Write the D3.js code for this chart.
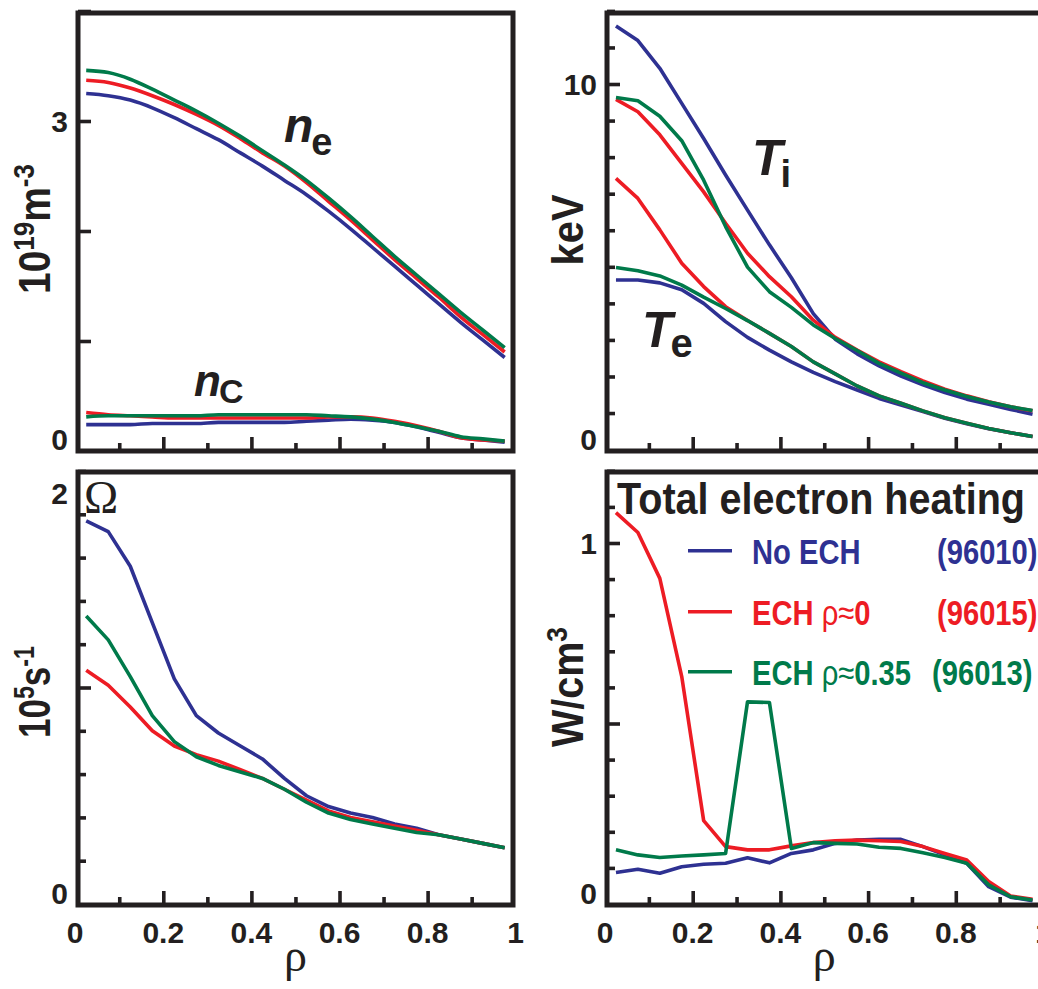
<!DOCTYPE html>
<html>
<head>
<meta charset="utf-8">
<script src="https://cdn.jsdelivr.net/npm/d3@7"></script>
<style>
body { margin: 0; background: #fff; }
svg { display: block; }
text { font-family: "Liberation Sans", Arial, sans-serif; font-weight: bold; fill: #231f20; }
</style>
</head>
<body>
<svg id="vis" width="1038" height="989"></svg>
<script>
// normalised radius, same grid for every profile
const rho = [0.025, 0.075, 0.125, 0.175, 0.225, 0.275, 0.325, 0.375, 0.425, 0.475,
             0.525, 0.575, 0.625, 0.675, 0.725, 0.775, 0.825, 0.875, 0.925, 0.975]

// electron density n_e, 10^19 m^-3
const neNoEch  = [3.25, 3.23, 3.19, 3.12, 3.03, 2.93, 2.83, 2.71, 2.59, 2.46, 2.33, 2.18, 2.02, 1.85, 1.68, 1.51, 1.34, 1.17, 1.01, 0.85]
const neEch0   = [3.37, 3.35, 3.30, 3.23, 3.15, 3.06, 2.96, 2.84, 2.71, 2.59, 2.44, 2.27, 2.10, 1.92, 1.74, 1.57, 1.40, 1.22, 1.06, 0.90]
const neEch035 = [3.46, 3.44, 3.38, 3.29, 3.19, 3.09, 2.98, 2.86, 2.73, 2.60, 2.46, 2.30, 2.13, 1.95, 1.77, 1.60, 1.43, 1.26, 1.10, 0.94]

// carbon density n_C, 10^19 m^-3
const ncNoEch  = [0.24, 0.24, 0.24, 0.25, 0.25, 0.25, 0.26, 0.26, 0.26, 0.26, 0.27, 0.28, 0.29, 0.28, 0.26, 0.22, 0.17, 0.12, 0.10, 0.08]
const ncEch0   = [0.35, 0.33, 0.32, 0.31, 0.30, 0.30, 0.30, 0.30, 0.30, 0.30, 0.30, 0.31, 0.31, 0.30, 0.27, 0.23, 0.18, 0.12, 0.10, 0.09]
const ncEch035 = [0.31, 0.32, 0.32, 0.32, 0.32, 0.32, 0.33, 0.33, 0.33, 0.33, 0.33, 0.32, 0.31, 0.29, 0.26, 0.22, 0.18, 0.13, 0.11, 0.09]

// ion temperature T_i, keV
const tiNoEch  = [11.59, 11.19, 10.43, 9.47, 8.51, 7.51, 6.55, 5.60, 4.70, 3.72, 3.02, 2.62, 2.29, 2.01, 1.77, 1.56, 1.38, 1.24, 1.10, 0.97]
const tiEch0   = [9.58, 9.24, 8.61, 7.83, 7.05, 6.19, 5.37, 4.73, 4.18, 3.54, 3.07, 2.72, 2.40, 2.13, 1.88, 1.65, 1.47, 1.31, 1.17, 1.06]
const tiEch035 = [9.63, 9.54, 9.12, 8.45, 7.37, 6.10, 4.99, 4.32, 3.89, 3.41, 3.04, 2.71, 2.36, 2.09, 1.83, 1.63, 1.45, 1.30, 1.17, 1.07]

// electron temperature T_e, keV
const teNoEch  = [4.64, 4.64, 4.56, 4.37, 4.00, 3.50, 3.07, 2.72, 2.40, 2.11, 1.86, 1.63, 1.40, 1.22, 1.04, 0.86, 0.71, 0.57, 0.46, 0.36]
const teEch0   = [7.42, 6.87, 6.01, 5.10, 4.46, 3.91, 3.53, 3.18, 2.82, 2.40, 2.07, 1.74, 1.47, 1.27, 1.06, 0.87, 0.72, 0.58, 0.46, 0.36]
const teEch035 = [4.98, 4.89, 4.75, 4.50, 4.17, 3.86, 3.53, 3.18, 2.82, 2.40, 2.07, 1.74, 1.47, 1.27, 1.06, 0.87, 0.72, 0.58, 0.46, 0.36]

// toroidal rotation Omega, 10^5 s^-1
const omNoEch  = [1.77, 1.72, 1.56, 1.30, 1.04, 0.87, 0.79, 0.73, 0.67, 0.58, 0.50, 0.45, 0.42, 0.40, 0.37, 0.35, 0.32, 0.30, 0.28, 0.26]
const omEch0   = [1.08, 1.01, 0.91, 0.80, 0.73, 0.69, 0.66, 0.62, 0.58, 0.53, 0.48, 0.43, 0.40, 0.38, 0.36, 0.34, 0.32, 0.30, 0.28, 0.26]
const omEch035 = [1.33, 1.22, 1.05, 0.87, 0.75, 0.68, 0.64, 0.61, 0.58, 0.53, 0.47, 0.42, 0.39, 0.37, 0.35, 0.33, 0.32, 0.30, 0.28, 0.26]

// total electron heating, W/cm^3
const heatNoEch  = [0.087, 0.096, 0.085, 0.103, 0.110, 0.113, 0.128, 0.114, 0.140, 0.150, 0.168, 0.177, 0.179, 0.179, 0.159, 0.136, 0.113, 0.048, 0.019, 0.009]
const heatEch0   = [1.084, 1.029, 0.902, 0.630, 0.231, 0.159, 0.150, 0.150, 0.161, 0.170, 0.175, 0.177, 0.175, 0.173, 0.159, 0.140, 0.122, 0.062, 0.022, 0.013]
const heatEch035 = [0.150, 0.136, 0.129, 0.133, 0.136, 0.140, 0.560, 0.558, 0.154, 0.170, 0.168, 0.166, 0.157, 0.154, 0.142, 0.129, 0.113, 0.053, 0.020, 0.011]

// ticks
const rhoMinorTicks = [0.1, 0.3, 0.5, 0.7, 0.9]
const rhoMajorTicks = [0.2, 0.4, 0.6, 0.8]
const rhoTickLabels = [0, 0.2, 0.4, 0.6, 0.8, 1]
const densMajorTicks = [1, 2, 3, 4]
const densTickLabels = [0, 3]
const tempMinorTicks = [1, 2, 3, 4, 5, 6, 7, 8, 9, 11, 12]
const tempMajorTicks = [10]
const tempTickLabels = [0, 10]
const omMinorTicks = [0.2, 0.4, 0.6, 0.8, 1.2, 1.4, 1.6, 1.8, 2.0]
const omMajorTicks = [1]
const omTickLabels = [0, 2]
const heatMinorTicks = [0.1, 0.2, 0.3, 0.4, 0.6, 0.7, 0.8, 0.9, 1.1, 1.2]
const heatMajorTicks = [0.5, 1]
const heatTickLabels = [0, 1]

// legend
const caseNames = ['No ECH', 'ECH ρ≈0', 'ECH ρ≈0.35']
const shotNumbers = ['(96010)', '(96015)', '(96013)']

const colBlue = '#2e3192', colRed = '#ed1c24', colGreen = '#007a4a'
const ink = '#231f20'

const svg = d3.select('#vis')
svg.append('rect').attr('width', 1038).attr('height', 989).attr('fill', '#fff')

// one framed panel with inward ticks
function makePanel(box, yDomain, yRange, yMinor, yMajor, yLabels, withRhoLabels) {
    let g = svg.append('g')
    let x = d3.scaleLinear().domain([0, 1]).range([box.x0, box.x1])
    let y = d3.scaleLinear().domain(yDomain).range(yRange)

    let tickStyle = sel => {
        sel.select('.domain').remove()
        sel.selectAll('line').attr('stroke', ink).attr('stroke-width', 3.6)
    }

    g.append('g').attr('transform', `translate(${box.left},0)`)
        .call(d3.axisLeft(y).tickValues(yMinor).tickSize(-8).tickFormat(''))
        .call(tickStyle)
    g.append('g').attr('transform', `translate(${box.left},0)`)
        .call(d3.axisLeft(y).tickValues(yMajor).tickSize(-13).tickFormat(''))
        .call(tickStyle)
    g.append('g').attr('transform', `translate(0,${box.bottom})`)
        .call(d3.axisBottom(x).tickValues(rhoMinorTicks).tickSize(-8).tickFormat(''))
        .call(tickStyle)
    g.append('g').attr('transform', `translate(0,${box.bottom})`)
        .call(d3.axisBottom(x).tickValues(rhoMajorTicks).tickSize(-14).tickFormat(''))
        .call(tickStyle)

    g.append('rect')
        .attr('x', box.left).attr('y', box.top)
        .attr('width', box.right - box.left).attr('height', box.bottom - box.top)
        .attr('fill', 'none').attr('stroke', ink).attr('stroke-width', 5)

    // y labels kept inside the frame height
    yLabels.forEach(v => {
        let yy = Math.max(Math.min(y(v), box.bottom - 12), box.top + 21)
        g.append('text')
            .attr('x', box.left - 10).attr('y', yy).attr('dy', '0.36em')
            .attr('text-anchor', 'end').attr('font-size', 30)
            .text(v)
    })

    if (withRhoLabels) {
        rhoTickLabels.forEach(v => {
            g.append('text')
                .attr('x', x(v)).attr('y', box.bottom + 38)
                .attr('text-anchor', 'middle').attr('font-size', 30)
                .text(v)
        })
        g.append('text')
            .attr('x', x(0.5)).attr('y', box.bottom + 66)
            .attr('text-anchor', 'middle').attr('font-size', 46)
            .style('font-family', '"Liberation Serif", serif').style('font-weight', 'normal')
            .text('ρ')
    }
    return {g, x, y}
}

function drawProfiles(p, series, curve) {
    let line = d3.line()
        .x((d, i) => p.x(rho[i]))
        .y(d => p.y(d))
        .curve(curve)
    series.forEach(s => {
        p.g.append('path')
            .datum(s[0])
            .attr('d', line)
            .attr('fill', 'none')
            .attr('stroke', s[1])
            .attr('stroke-width', 3.6)
            .attr('stroke-linejoin', 'round')
    })
}

// rotated axis title, squeezed along its length like the condensed original
function axisTitle(parts, bx, cy, target) {
    let t = svg.append('text').attr('text-anchor', 'middle').attr('font-size', 45)
    let raised = false
    parts.forEach(p => {
        let sup = p.startsWith('^')
        let ts = t.append('tspan').text(sup ? p.slice(1) : p)
        if (sup) { ts.attr('font-size', 30).attr('dy', -16); raised = true }
        else if (raised) { ts.attr('dy', 16); raised = false }
    })
    let s = target / t.node().getComputedTextLength()
    t.attr('transform', `translate(${bx},${cy}) rotate(-90) scale(${s},1)`)
}

// curve name: italic letter plus upright subscript
function curveName(letter, sub, x, y, size, subSize, drop) {
    let t = svg.append('text').attr('x', x).attr('y', y).attr('font-size', size)
    t.append('tspan').style('font-style', 'italic').text(letter)
    t.append('tspan').attr('font-size', subSize).attr('dy', drop).attr('dx', -2).text(sub)
}

// ---- panels ----
let dens = makePanel({left: 78, top: 13, right: 513, bottom: 451, x0: 75.2, x1: 515.7},
    [0, 4], [451, 11], [], densMajorTicks, densTickLabels, false)
drawProfiles(dens, [[neNoEch, colBlue], [neEch0, colRed], [neEch035, colGreen]], d3.curveMonotoneX)
drawProfiles(dens, [[ncNoEch, colBlue], [ncEch0, colRed], [ncEch035, colGreen]], d3.curveMonotoneX)

let temp = makePanel({left: 607, top: 13, right: 1043, bottom: 451, x0: 605, x1: 1043.5},
    [0, 12], [449.6, 10.9], tempMinorTicks, tempMajorTicks, tempTickLabels, false)
drawProfiles(temp, [[teNoEch, colBlue], [teEch0, colRed], [teEch035, colGreen]], d3.curveLinear)
drawProfiles(temp, [[tiNoEch, colBlue], [tiEch0, colRed], [tiEch035, colGreen]], d3.curveLinear)

let omega = makePanel({left: 78, top: 472, right: 513, bottom: 905, x0: 75.2, x1: 515.7},
    [0, 2], [904, 471], omMinorTicks, omMajorTicks, omTickLabels, true)
drawProfiles(omega, [[omNoEch, colBlue], [omEch0, colRed], [omEch035, colGreen]], d3.curveLinear)

let heat = makePanel({left: 607, top: 472, right: 1043, bottom: 905, x0: 605, x1: 1043.5},
    [0, 1.2], [904, 470.8], heatMinorTicks, heatMajorTicks, heatTickLabels, true)
drawProfiles(heat, [[heatNoEch, colBlue], [heatEch0, colRed], [heatEch035, colGreen]], d3.curveLinear)

// ---- axis titles ----
axisTitle(['10', '^19', 'm', '^-3'], 50, 229, 130)
axisTitle(['keV'], 583, 230, 71)
axisTitle(['10', '^5', 's', '^-1'], 50, 692, 92)
axisTitle(['W/cm', '^3'], 583, 687, 120)

// ---- curve names ----
curveName('n', 'e', 284, 142, 48, 38, 13)
curveName('n', 'C', 194, 396, 44, 34, 7)
curveName('T', 'i', 752, 175, 50, 38, 12)
curveName('T', 'e', 642, 347, 50, 40, 10)

svg.append('text')
    .attr('x', 84).attr('y', 513).attr('font-size', 46)
    .style('font-family', '"Liberation Serif", serif').style('font-weight', 'normal')
    .text('Ω')

// ---- heating legend ----
let title = svg.append('text').attr('font-size', 45).text('Total electron heating')
let ts = 408 / title.node().getComputedTextLength()
title.attr('transform', `translate(617,514) scale(${ts},1)`)

const legendColors = [colBlue, colRed, colGreen]
const legendRows = [550.7, 611.7, 671.7]
const shotX = [937, 937, 932]
caseNames.forEach((name, i) => {
    let yy = legendRows[i]
    svg.append('line')
        .attr('x1', 688).attr('x2', 732).attr('y1', yy).attr('y2', yy)
        .attr('stroke', legendColors[i]).attr('stroke-width', 3.6)

    let t = svg.append('text').attr('font-size', 36)
        .attr('transform', `translate(752,${yy + 13}) scale(0.81,1)`)
        .style('fill', legendColors[i])
    let k = name.indexOf('ρ≈')
    if (k < 0) {
        t.text(name)
    } else {
        t.append('tspan').text(name.slice(0, k))
        t.append('tspan').style('font-weight', 'normal').text('ρ≈')
        t.append('tspan').text(name.slice(k + 2))
    }
    svg.append('text').attr('font-size', 36)
        .attr('transform', `translate(${shotX[i]},${yy + 13}) scale(0.81,1)`)
        .style('fill', legendColors[i])
        .text(shotNumbers[i])
})
</script>
</body>
</html>
